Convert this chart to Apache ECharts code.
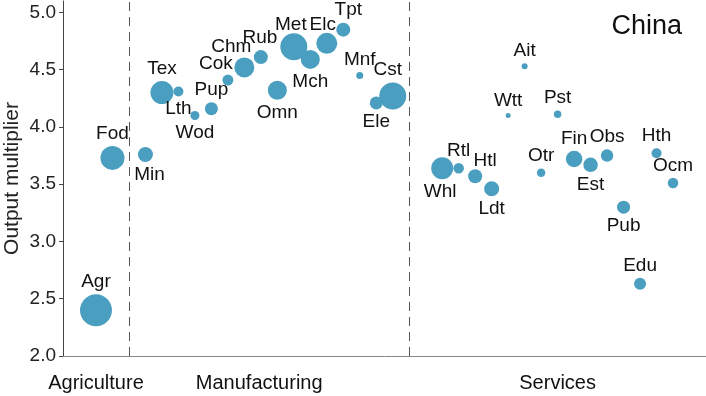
<!DOCTYPE html>
<html><head><meta charset="utf-8">
<script src="https://cdn.jsdelivr.net/npm/echarts@6/dist/echarts.min.js"></script>
<style>html,body{margin:0;padding:0;background:#fff}#c{width:706px;height:396px}</style>
</head><body><div id="c"></div>
<script>
// Sector codes, their position along the x axis, output multipliers and bubble sizes
const codes = ['Agr','Fod','Min','Tex','Lth','Wod','Pup','Cok','Chm','Rub','Omn','Met','Mch','Elc','Tpt','Mnf','Ele','Cst',
  'Whl','Rtl','Htl','Ldt','Wtt','Ait','Otr','Pst','Fin','Est','Obs','Pub','Edu','Hth','Ocm'];
const positions = [2,3,5,6,7,8,9,10,11,12,13,14,15,16,17,18,19,20,
  23,24,25,26,27,28,29,30,31,32,33,34,35,36,37];
const multipliers = [2.40,3.73,3.76,4.30,4.31,4.10,4.16,4.41,4.52,4.61,4.32,4.70,4.59,4.73,4.85,4.45,4.21,4.27,
  3.64,3.64,3.57,3.46,4.10,4.53,3.60,4.11,3.72,3.67,3.75,3.30,2.63,3.77,3.51];
const bubbleSizes = [32,24,15,23,10,9,13,11,20,14,19,27,19,21,14,7,13,27,
  22,10.5,14,15,5,6,8.5,7.5,16.5,14.5,12.5,13,12,10,10.5];
const groupNames = ['Agriculture','Manufacturing','Services'];
const groupCenters = [2,11.9,30];
const separators = [4,21];
const yTicks = [2.0,2.5,3.0,3.5,4.0,4.5,5.0];

const labelBelow = {Min:[4,0],Lth:[0,0],Wod:[0,0],Omn:[0,0],Mch:[0,0],Ele:[0,0],Whl:[-2,0],Ldt:[0,0],Est:[0,0],Pub:[0,0]};
const labelShift = {Cok:[-12,2],Chm:[-13,2],Htl:[10,4],Cst:[-5,0],Tpt:[5,0],Elc:[-4,4],Met:[-3,4],Rub:[-1,0]};

const FONT = 'Liberation Sans, Arial, Helvetica, sans-serif';
const data = codes.map((c,i)=>{
  const below = labelBelow[c];
  const pos = below ? 'bottom' : 'top';
  const off = below || labelShift[c] || [0,0];
  return {name:c, value:[positions[i], multipliers[i], bubbleSizes[i]],
    label:{position:pos, offset:off}};
});

const chart = echarts.init(document.getElementById('c'), null, {renderer:'canvas'});
chart.setOption({
  animation:false,
  title:{text:'China', right:19, top:8, textStyle:{fontFamily:FONT, fontSize:27, fontWeight:'normal', color:'#111'}},
  grid:{left:63, right:0, top:1, bottom:40, containLabel:false, outerBoundsMode:'none'},
  xAxis:{type:'value', min:0, max:39,
    splitLine:{show:false}, axisTick:{show:false},
    axisLine:{show:true, lineStyle:{color:'#888', width:1}},
    axisLabel:{customValues:groupCenters, formatter:(v)=>groupNames[groupCenters.indexOf(v)] || '',
      fontFamily:FONT, fontSize:20, color:'#111', margin:17}},
  yAxis:{type:'value', min:2.0, max:5.1,
    name:'Output multiplier', nameLocation:'middle', nameGap:40, nameRotate:90, nameMoveOverlap:false,
    nameTextStyle:{fontFamily:FONT, fontSize:21, color:'#222'},
    splitLine:{show:false},
    axisLine:{show:true, lineStyle:{color:'#444', width:1}},
    axisTick:{show:true, inside:false, length:4, customValues:yTicks, lineStyle:{color:'#444'}},
    axisLabel:{customValues:yTicks, formatter:(v)=>v.toFixed(1), fontFamily:FONT, fontSize:19, color:'#222', margin:7}},
  series:[{
    type:'scatter',
    data:data,
    symbolSize:(v)=>v[2],
    itemStyle:{color:'#4a9ec0', opacity:1},
    label:{show:true, formatter:'{b}', fontFamily:FONT, fontSize:19, color:'#111', distance:3},
    markLine:{silent:true, symbol:'none', label:{show:false},
      lineStyle:{type:[9,6], color:'#555', width:1},
      data:separators.map(x=>({xAxis:x}))}
  }]
});
</script></body></html>
